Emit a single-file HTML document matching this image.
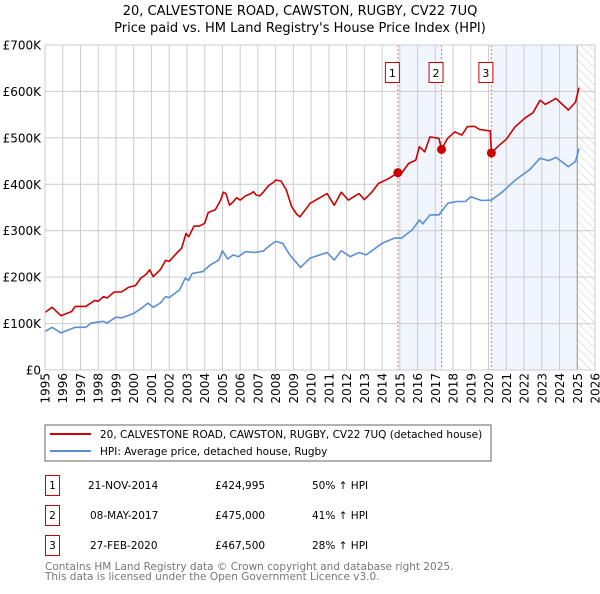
<!DOCTYPE html>
<html><head><meta charset="utf-8"><style>
body{margin:0;background:#fff;font-family:"DejaVu Sans","Liberation Sans",sans-serif;}
svg text{font-family:"DejaVu Sans","Liberation Sans",sans-serif;}
</style></head><body>
<svg id="c" width="600" height="590" xmlns="http://www.w3.org/2000/svg">
<defs><pattern id="hatch" width="6" height="6" patternUnits="userSpaceOnUse" patternTransform="rotate(-45)"><line x1="0" y1="0" x2="0" y2="6" stroke="#ccc" stroke-width="1"/></pattern></defs>
<text x="300" y="15" text-anchor="middle" font-size="13">20, CALVESTONE ROAD, CAWSTON, RUGBY, CV22 7UQ</text>
<text x="300" y="32" text-anchor="middle" font-size="13">Price paid vs. HM Land Registry's House Price Index (HPI)</text>
<g id="plot"></g>
<rect x="45" y="425" width="446" height="36" fill="#fff" stroke="#666"/>
<line x1="50" y1="434" x2="91" y2="434" stroke="#cc0000" stroke-width="2"/>
<text x="100" y="438" font-size="10.5">20, CALVESTONE ROAD, CAWSTON, RUGBY, CV22 7UQ (detached house)</text>
<line x1="50" y1="451" x2="91" y2="451" stroke="#5b8fd4" stroke-width="2"/>
<text x="100" y="455" font-size="10.5">HPI: Average price, detached house, Rugby</text>
<g font-size="10.5">
<rect x="45.5" y="475.5" width="14" height="20" fill="none" stroke="#cc0000"/><text x="52.5" y="489" text-anchor="middle">1</text>
<text x="88" y="489">21-NOV-2014</text><text x="215" y="489">£424,995</text><text x="312" y="489">50% ↑ HPI</text>
<rect x="45.5" y="505.5" width="14" height="20" fill="none" stroke="#cc0000"/><text x="52.5" y="519" text-anchor="middle">2</text>
<text x="90" y="519">08-MAY-2017</text><text x="215" y="519">£475,000</text><text x="312" y="519">41% ↑ HPI</text>
<rect x="45.5" y="535.5" width="14" height="20" fill="none" stroke="#cc0000"/><text x="52.5" y="549" text-anchor="middle">3</text>
<text x="90" y="549">27-FEB-2020</text><text x="215" y="549">£467,500</text><text x="312" y="549">28% ↑ HPI</text>
</g>
<text x="45" y="570" font-size="10.5" fill="#777">Contains HM Land Registry data © Crown copyright and database right 2025.</text>
<text x="45" y="580" font-size="10.5" fill="#777">This data is licensed under the Open Government Licence v3.0.</text>
</svg>
<script>
const redYears=[1995.0,1995.4,1995.9,1996.5,1996.7,1997.3,1997.8,1998.0,1998.3,1998.5,1998.9,1999.3,1999.7,2000.1,2000.4,2000.7,2000.9,2001.1,2001.5,2001.8,2002.0,2002.5,2002.7,2002.95,2003.1,2003.4,2003.7,2004.0,2004.2,2004.6,2004.9,2005.05,2005.2,2005.4,2005.6,2005.8,2006.0,2006.3,2006.6,2006.75,2006.9,2007.1,2007.3,2007.6,2007.9,2008.0,2008.3,2008.6,2008.9,2009.2,2009.37,2009.94,2010.9,2011.3,2011.7,2012.1,2012.7,2013.0,2013.4,2013.8,2014.4,2014.89,2015.1,2015.5,2015.9,2016.1,2016.4,2016.7,2017.2,2017.35,2017.7,2018.1,2018.5,2018.8,2019.2,2019.5,2020.1,2020.16,2020.6,2021.0,2021.5,2022.1,2022.5,2022.9,2023.2,2023.8,2024.5,2024.9,2025.1];
const redValues=[124,135,117,126,137,137,150,148,158,155,168,168,178,182,198,206,216,201,216,236,234,255,262,294,287,310,310,316,339,345,366,383,380,355,362,371,366,375,380,384,377,375,383,397,405,409,407,388,352,335,330,359,380,355,383,366,380,367,382,402,413,425,424,445,452,481,470,502,499,476,499,513,506,524,525,518,515,468,484,497,524,544,554,581,572,585,560,577,608];
const blueYears=[1995.0,1995.4,1995.9,1996.7,1997.3,1997.6,1998.3,1998.5,1999.0,1999.3,2000.0,2000.4,2000.8,2001.1,2001.5,2001.8,2002.0,2002.6,2002.9,2003.1,2003.3,2003.9,2004.3,2004.8,2005.0,2005.3,2005.6,2005.9,2006.3,2006.8,2007.3,2007.6,2008.0,2008.4,2008.8,2009.2,2009.4,2009.94,2010.9,2011.3,2011.7,2012.2,2012.7,2013.1,2013.5,2014.0,2014.7,2015.1,2015.7,2016.1,2016.3,2016.7,2017.2,2017.7,2018.2,2018.7,2019.0,2019.6,2020.16,2020.8,2021.5,2022.3,2022.9,2023.4,2023.8,2024.5,2024.9,2025.1];
const blueValues=[83,92,80,92,92,101,105,101,114,112,122,132,144,135,144,158,156,173,198,193,208,212,226,237,257,239,248,244,255,253,256,266,277,273,248,230,221,241,253,237,257,244,253,248,259,273,284,284,302,323,315,334,334,359,363,363,373,365,366,384,409,431,456,451,458,438,449,477];
const saleYears=[2014.89,2017.35,2020.16];
const salePrices=[424.995,475,467.5];
const saleLabels=["1","2","3"];
const yTicks=[0,100,200,300,400,500,600,700];
const yTickLabels=["£0","£100K","£200K","£300K","£400K","£500K","£600K","£700K"];
const xStart=1995,xEnd=2026;
const L=45,R=595,T=45,B=370;
const X=y=>L+(y-xStart)/(xEnd-xStart)*(R-L);
const Y=v=>B-v/700*(B-T);
const NS="http://www.w3.org/2000/svg";
const g=document.getElementById('plot');
function mk(t,a){const e=document.createElementNS(NS,t);for(const k in a)e.setAttribute(k,a[k]);g.appendChild(e);return e;}
let e=mk('rect',{x:X(saleYears[0]),y:T,width:X(saleYears[1])-X(saleYears[0]),height:B-T,fill:'#eef3fc',opacity:0.8});


e=mk('rect',{x:X(saleYears[2]),y:T,width:X(2025.0)-X(saleYears[2]),height:B-T,fill:'#eef3fc',opacity:0.8});


e=mk('rect',{x:X(2025.0),y:T,width:R-X(2025.0),height:B-T,fill:'url(#hatch)'});


for(let yr=xStart;yr<=xEnd;yr++){
 e=mk('line',{x1:X(yr),x2:X(yr),y1:T,y2:B,stroke:'#ccc','stroke-width':1});
 
 
 e=mk('text',{x:0,y:0,'font-size':12,'text-anchor':'end',transform:`translate(${X(yr)+4.5},${B+3}) rotate(-90)`});
 e.textContent=yr;
 
 
}
yTicks.forEach((v,i)=>{
 e=mk('line',{x1:L,x2:R,y1:Y(v),y2:Y(v),stroke:'#ccc','stroke-width':1});
 
 
 e=mk('text',{x:L-4,y:Y(v)+4.5,'font-size':12,'text-anchor':'end'});
 e.textContent=yTickLabels[i];
 
 
});
e=mk('line',{x1:X(2025.0),x2:X(2025.0),y1:T,y2:B,stroke:'#999','stroke-width':1});


saleYears.forEach((s,i)=>{
 e=mk('line',{x1:X(s),x2:X(s),y1:T,y2:B,stroke:'#f07070','stroke-width':1,'stroke-dasharray':'2,2'});
 
 
});
function path(xs,vs,col,name){
 const d=xs.map((x,i)=>(i?'L':'M')+X(x).toFixed(1)+','+Y(vs[i]).toFixed(1)).join('');
 const p=mk('path',{d,fill:'none',stroke:col,'stroke-width':1.6,'stroke-linejoin':'round'});
 
 
}
path(blueYears,blueValues,'#5b8fd4','hpi-line');
path(redYears,redValues,'#cc0000','property-line');
saleYears.forEach((s,i)=>{
 e=mk('circle',{cx:X(s),cy:Y(salePrices[i]),r:4.5,fill:'#cc0000'});
 
 
 e=mk('rect',{x:X(s)-12.5,y:62.5,width:14,height:20,fill:'#fff',stroke:'#cc0000'});
 
 
 e=mk('text',{x:X(s)-5.5,y:77,'font-size':11,'text-anchor':'middle'});
 e.textContent=saleLabels[i];
 
 
});
e=mk('rect',{x:L,y:T,width:R-L,height:B-T,fill:'none',stroke:'#ccc'});


</script>
</body></html>
